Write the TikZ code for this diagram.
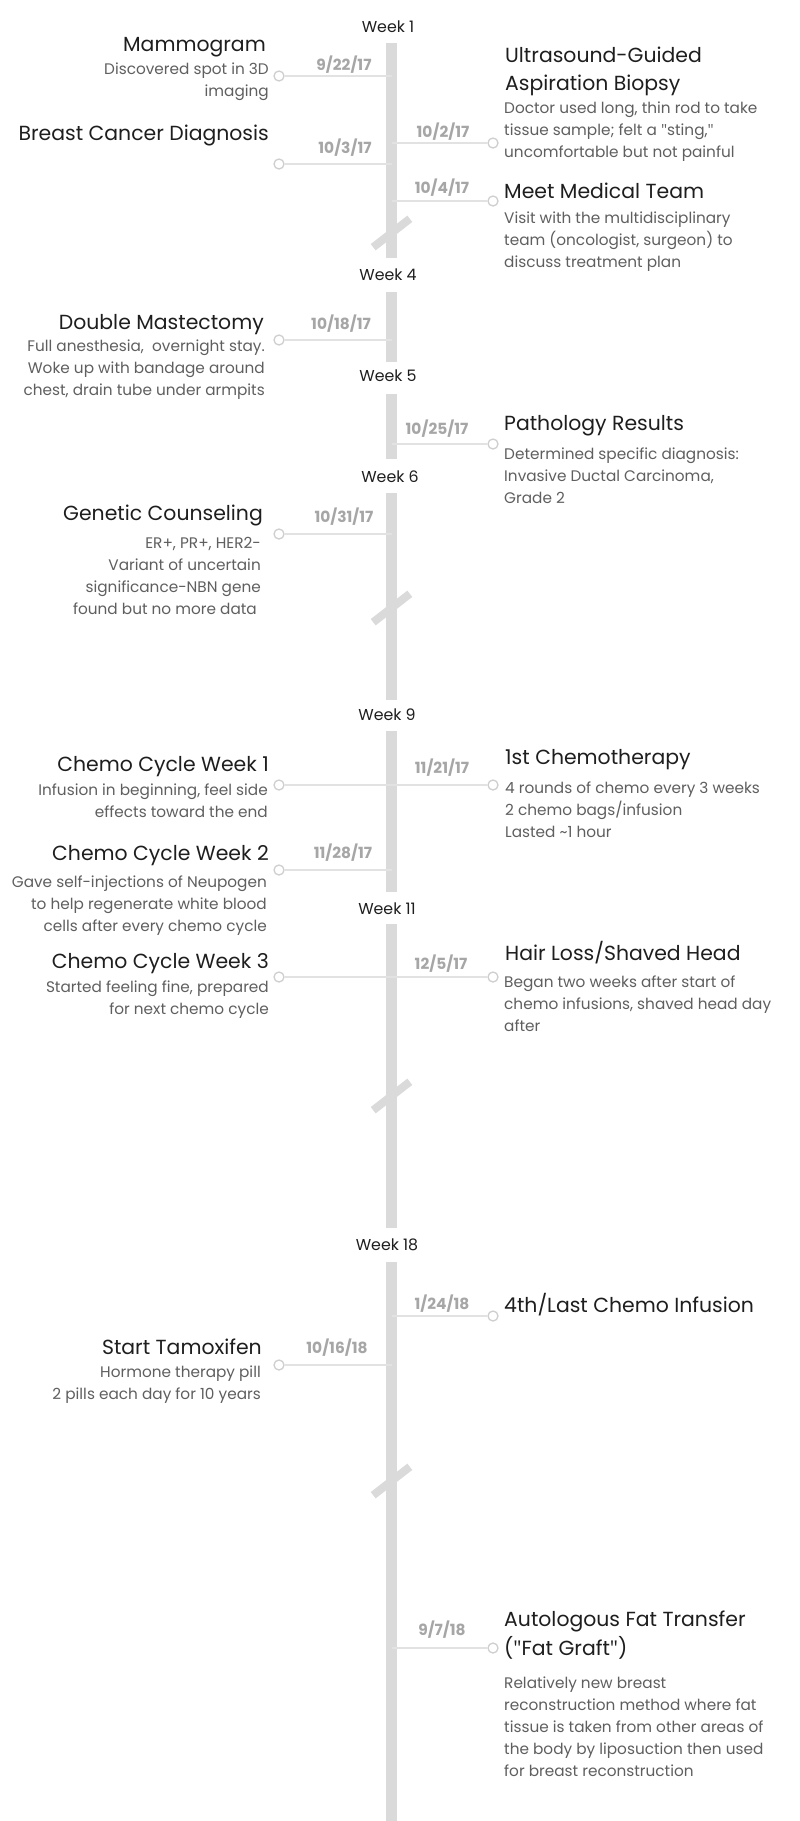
\documentclass[tikz,border=0pt]{standalone}
\usepackage{fontspec}
\setmainfont{Poppins}
\newfontfamily\qfont{Open Sans}
\newcommand{\dq}{{\qfont"}}
\definecolor{titlec}{HTML}{1E1E1E}
\definecolor{descc}{HTML}{5F5F5F}
\definecolor{datec}{HTML}{A6A6A6}
\definecolor{spinec}{HTML}{DADADA}
\definecolor{connc}{HTML}{E2E2E2}
\definecolor{dotc}{HTML}{CFCFCF}
\tikzset{
  ttl/.style={font=\fontsize{20.4}{28.5}\selectfont, text=titlec, inner sep=0pt},
  dsc/.style={font=\fontsize{15.3}{22}\selectfont, text=descc, inner sep=0pt},
  dte/.style={font=\fontsize{15.4}{17}\selectfont\bfseries, text=datec, inner sep=0pt, anchor=base},
  wk/.style={font=\fontsize{15.8}{17}\selectfont, text=titlec, inner sep=0pt, anchor=base},
  spineseg/.style={line width=10.5pt, draw=spinec},
  brk/.style={line width=8pt, draw=spinec},
  conn/.style={line width=2pt, draw=connc},
  dot/.style={circle, draw=dotc, line width=1.3pt, fill=white, minimum size=10pt, inner sep=0pt},
}
\begin{document}
\begin{tikzpicture}[x=1pt,y=-1pt]
\useasboundingbox[fill=white] (0,0) rectangle (800,1821);
\coordinate (sp) at (391.5,0);
% spine segments
\draw[spineseg] (391.5,43) -- (391.5,258);
\draw[spineseg] (391.5,292) -- (391.5,362);
\draw[spineseg] (391.5,394) -- (391.5,459);
\draw[spineseg] (391.5,493) -- (391.5,700);
\draw[spineseg] (391.5,731) -- (391.5,892);
\draw[spineseg] (391.5,924) -- (391.5,1228);
\draw[spineseg] (391.5,1262) -- (391.5,1821);
% breaks
\foreach \yy in {233,608,1096,1481}{
  \draw[brk] (373.2,\yy+14.2) -- (409.8,\yy-14.2);
}
% week labels
\node[wk] (w1) at (388,32) {Week 1};
\node[wk] (w4) at (388,280) {Week 4};
\node[wk] (w5) at (388,381) {Week 5};
\node[wk] (w6) at (390,482) {Week 6};
\node[wk] (w9) at (387,720) {Week 9};
\node[wk] (w11) at (387,914) {Week 11};
\node[wk] (w18) at (387,1250) {Week 18};
% connector dots
\node[dot] (c1) at (279,76) {};
\node[dot] (c2) at (493,143) {};
\node[dot] (c3) at (279,164) {};
\node[dot] (c4) at (493,201) {};
\node[dot] (c5) at (279,340) {};
\node[dot] (c6) at (493,444) {};
\node[dot] (c7) at (279,534) {};
\node[dot] (c8l) at (279,785) {};
\node[dot] (c8r) at (493,785) {};
\node[dot] (c9) at (279,870) {};
\node[dot] (c10l) at (279,977) {};
\node[dot] (c10r) at (493,977) {};
\node[dot] (c11) at (493,1316) {};
\node[dot] (c12) at (279,1365) {};
\node[dot] (c13) at (493,1648) {};
\foreach \c in {c1,c2,c3,c4,c5,c6,c7,c8l,c8r,c9,c10l,c10r,c11,c12,c13}{
  \draw[conn] (\c) -- (\c -| sp);
}
% dates
\node[dte] (d1) at (344,70) {9/22/17};
\node[dte] (d2) at (443,137) {10/2/17};
\node[dte] (d3) at (345,153) {10/3/17};
\node[dte] (d4) at (442,193) {10/4/17};
\node[dte] (d5) at (341,329) {10/18/17};
\node[dte] (d6) at (437,434) {10/25/17};
\node[dte] (d7) at (344,522) {10/31/17};
\node[dte] (d8) at (442,773) {11/21/17};
\node[dte] (d9) at (343,858) {11/28/17};
\node[dte] (d10) at (441,969) {12/5/17};
\node[dte] (d11) at (442,1309) {1/24/18};
\node[dte] (d12) at (337,1353) {10/16/18};
\node[dte] (d13) at (442,1635) {9/7/18};
% left events
\node[ttl, anchor=base east] (t1) at (266,51) {Mammogram};
\node[dsc, anchor=north east, align=right] (e1) at (269,58.6) {\strut Discovered spot in 3D\\imaging};
\node[ttl, anchor=base east] (t3) at (269,140) {Breast Cancer Diagnosis};
\node[ttl, anchor=base east] (t5) at (264,329) {Double Mastectomy};
\node[dsc, anchor=north east, align=right] (e5) at (265,335.6) {\strut Full anesthesia,~ overnight stay.\\Woke up with bandage around\\chest, drain tube under armpits};
\node[ttl, anchor=base east] (t7) at (263,520) {Genetic Counseling};
\node[dsc, anchor=north east, align=right] (e7) at (261,532.6) {\strut ER+, PR+, HER2-\\Variant of uncertain\\significance-NBN gene\\found but no more data\hspace*{4pt}};
\node[ttl, anchor=base east] (t8l) at (269,771) {Chemo Cycle Week 1};
\node[dsc, anchor=north east, align=right] (e8l) at (268,779.6) {\strut Infusion in beginning, feel side\\effects toward the end};
\node[ttl, anchor=base east] (t9) at (269,860) {Chemo Cycle Week 2};
\node[dsc, anchor=north east, align=right] (e9) at (267,871.6) {\strut Gave self-injections of Neupogen\\to help regenerate white blood\\cells after every chemo cycle};
\node[ttl, anchor=base east] (t10l) at (269,968) {Chemo Cycle Week 3};
\node[dsc, anchor=north east, align=right] (e10l) at (269,976.6) {\strut Started feeling fine, prepared\\for next chemo cycle};
\node[ttl, anchor=base east] (t12) at (262,1354) {Start Tamoxifen};
\node[dsc, anchor=north east, align=right] (e12) at (261,1361.6) {\strut Hormone therapy pill\\2 pills each day for 10 years};
% right events
\node[ttl, anchor=north west, align=left] (t2) at (505,42) {\strut Ultrasound-Guided\\Aspiration Biopsy};
\node[dsc, anchor=north west, align=left] (e2) at (504,97.6) {\strut Doctor used long, thin rod to take\\tissue sample; felt a \dq sting,\dq\\uncomfortable but not painful};
\node[ttl, anchor=base west] (t4) at (504,198) {Meet Medical Team};
\node[dsc, anchor=north west, align=left] (e4) at (504,207.6) {\strut Visit with the multidisciplinary\\team (oncologist, surgeon) to\\discuss treatment plan};
\node[ttl, anchor=base west] (t6) at (504,430) {Pathology Results};
\node[dsc, anchor=north west, align=left] (e6) at (504,443.6) {\strut Determined specific diagnosis:\\Invasive Ductal Carcinoma,\\Grade 2};
\node[ttl, anchor=base west] (t8r) at (505,764) {1st Chemotherapy};
\node[dsc, anchor=north west, align=left] (e8r) at (505,777.6) {\strut 4 rounds of chemo every 3 weeks\\2 chemo bags/infusion\\Lasted \textasciitilde1 hour};
\node[ttl, anchor=base west] (t10r) at (505,960) {Hair Loss/Shaved Head};
\node[dsc, anchor=north west, align=left] (e10r) at (504,971.6) {\strut Began two weeks after start of\\chemo infusions, shaved head day\\after};
\node[ttl, anchor=base west] (t11) at (504,1312) {4th/Last Chemo Infusion};
\node[ttl, anchor=north west, align=left, font=\fontsize{20.4}{29}\selectfont] (t13) at (504,1605.7) {\strut Autologous Fat Transfer\\(\dq Fat Graft\dq)};
\node[dsc, anchor=north west, align=left] (e13) at (504,1672.6) {\strut Relatively new breast\\reconstruction method where fat\\tissue is taken from other areas of\\the body by liposuction then used\\for breast reconstruction};
\end{tikzpicture}
\end{document}
